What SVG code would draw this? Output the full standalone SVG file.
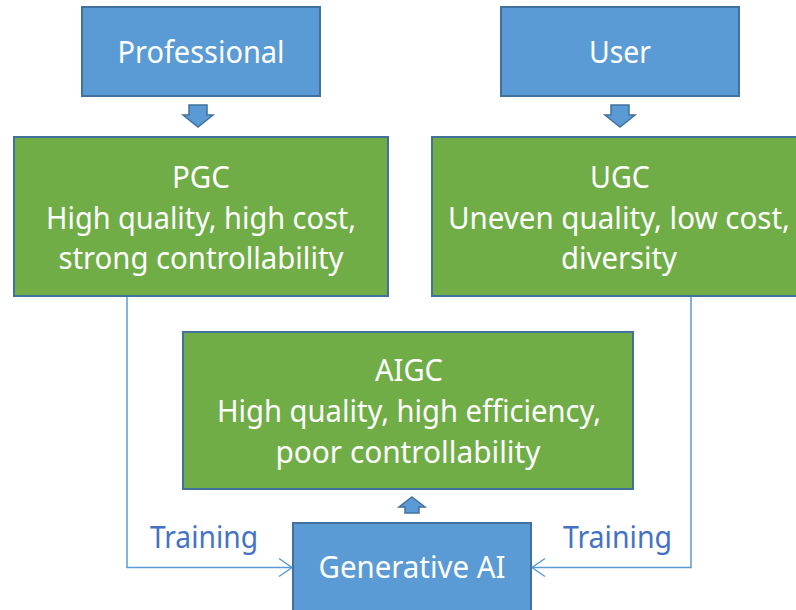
<svg xmlns="http://www.w3.org/2000/svg" width="796" height="610" viewBox="0 0 796 610">
<style>
.blue{fill:#5B9BD5;stroke:#41719C;stroke-width:2}
.green{fill:#70AD47;stroke:#41719C;stroke-width:2}
.blk{fill:#5B9BD5;stroke:#41719C;stroke-width:1.5}
.t{font-family:"Noto Sans","Open Sans","Liberation Sans",sans-serif;font-size:30px;fill:#FFFFFF;text-anchor:middle}
.lbl{font-family:"Noto Sans","Open Sans","Liberation Sans",sans-serif;font-size:30px;fill:#4472C4}
.conn{fill:none;stroke:#5B9BD5;stroke-width:1.5}
</style>
<defs>
<marker id="open" markerUnits="userSpaceOnUse" markerWidth="20" markerHeight="24" viewBox="-15 -12 17 24" refX="0" refY="0" orient="auto">
<path d="M-13,-9 L0,0 L-13,9" fill="none" stroke="#5B9BD5" stroke-width="1.5"/>
</marker>
</defs>
<rect width="796" height="610" fill="#FFFFFF"/>
<g id="connectors">
<polyline class="conn" points="127,296 127,567.5 292,567.5" marker-end="url(#open)"/>
<polyline class="conn" points="691,296 691,567.5 532,567.5" marker-end="url(#open)"/>
<path class="blk" d="M189,105 H207 V115 H213 L198,127 L183,115 H189 Z"/>
<path class="blk" d="M611,105 H629 V115 H635 L620,127 L605,115 H611 Z"/>
<path class="blk" d="M412,497 L425,507 H419 V513 H405 V507 H399 Z"/>
<text class="lbl" x="150" y="548" textLength="108" lengthAdjust="spacingAndGlyphs">Training</text>
<text class="lbl" x="563" y="548" textLength="109" lengthAdjust="spacingAndGlyphs">Training</text>
</g>
<g id="professional">
<rect class="blue" x="82" y="7" width="238" height="89"/>
<text class="t" x="201" y="63" textLength="167" lengthAdjust="spacingAndGlyphs">Professional</text>
</g>
<g id="user">
<rect class="blue" x="501" y="7" width="238" height="89"/>
<text class="t" x="620" y="63" textLength="62" lengthAdjust="spacingAndGlyphs">User</text>
</g>
<g id="pgc">
<rect class="green" x="14" y="137" width="374" height="159"/>
<text class="t" x="201" y="188" textLength="58" lengthAdjust="spacingAndGlyphs">PGC</text>
<text class="t" x="201" y="229" textLength="310" lengthAdjust="spacingAndGlyphs">High quality, high cost,</text>
<text class="t" x="201" y="269" textLength="285" lengthAdjust="spacingAndGlyphs">strong controllability</text>
</g>
<g id="ugc">
<rect class="green" x="432" y="137" width="376" height="159"/>
<text class="t" x="620" y="188" textLength="60" lengthAdjust="spacingAndGlyphs">UGC</text>
<text class="t" x="619" y="229" textLength="342" lengthAdjust="spacingAndGlyphs">Uneven quality, low cost,</text>
<text class="t" x="619" y="269" textLength="116" lengthAdjust="spacingAndGlyphs">diversity</text>
</g>
<g id="aigc">
<rect class="green" x="183" y="332" width="450" height="157"/>
<text class="t" x="409" y="381" textLength="68" lengthAdjust="spacingAndGlyphs">AIGC</text>
<text class="t" x="409" y="422" textLength="384" lengthAdjust="spacingAndGlyphs">High quality, high efficiency,</text>
<text class="t" x="408" y="463" textLength="265" lengthAdjust="spacingAndGlyphs">poor controllability</text>
</g>
<g id="generative-ai">
<rect class="blue" x="293" y="523" width="238" height="100"/>
<text class="t" x="412" y="578" textLength="187" lengthAdjust="spacingAndGlyphs">Generative AI</text>
</g>
</svg>
